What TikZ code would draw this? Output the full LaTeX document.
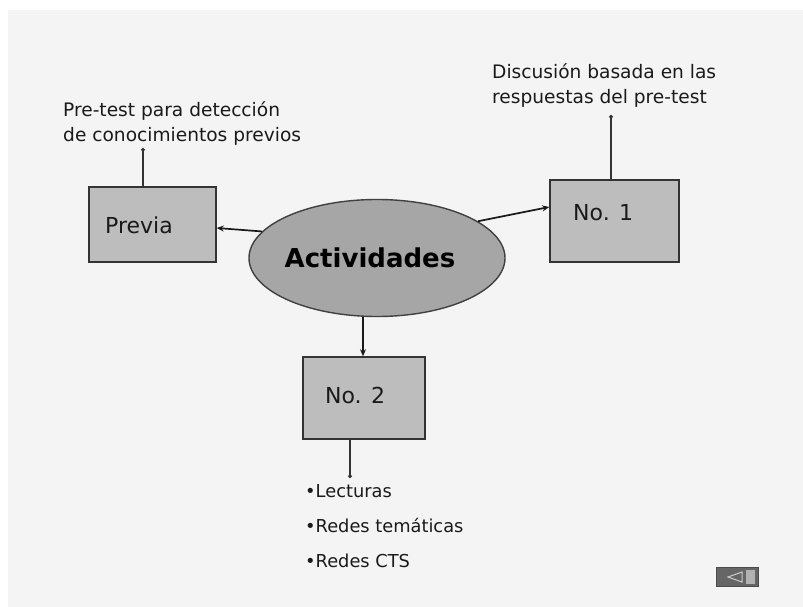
\documentclass[tikz,border=0pt]{standalone}
\usepackage{fontspec}
\setmainfont{DejaVu Sans}
\usetikzlibrary{shapes.geometric,arrows.meta}
\definecolor{slidebg}{HTML}{F4F4F4}
\definecolor{boxfill}{HTML}{BDBDBD}
\definecolor{ellfill}{HTML}{A6A6A6}
\definecolor{txt}{HTML}{1A1A1A}
\tikzset{
  x=1pt,y=-1pt,
  actbox/.style={draw=black!80,line width=1.5pt,fill=boxfill,minimum width=127pt,minimum height=75pt,inner sep=0pt},
  boxlabel/.style={font=\fontsize{22}{26}\selectfont,text=txt,anchor=base west,inner sep=0pt},
  note/.style={font=\fontsize{18.6}{25}\selectfont,text=txt,anchor=base west,inner sep=0pt},
  bullet/.style={font=\fontsize{17.8}{25}\selectfont,text=txt,anchor=base west,inner sep=0pt},
  conn/.style={draw=black!90,line width=1.7pt,-{Stealth[length=7pt,width=6pt]}},
  thin/.style={draw=black!80,line width=1.3pt,-{Circle[length=3.5pt]}}
}
\begin{document}
\begin{tikzpicture}
\useasboundingbox (0,0) rectangle (803,607);
\fill[white] (0,0) rectangle (803,607);
\fill[slidebg] (8,10) rectangle (803,607);
% central ellipse
\node[ellipse,draw=black!75,line width=1.4pt,fill=ellfill,minimum width=256pt,minimum height=117pt,inner sep=0pt] (act) at (377,258) {};
\node[font=\fontsize{26}{30}\selectfont\bfseries,text=black,anchor=base,inner sep=0pt] (actlbl) at (370,267) {Actividades};
% boxes
\node[actbox] (previa) at (152.5,224.5) {};
\node[boxlabel] (previalbl) at (105,233) {Previa};
\node[actbox,minimum width=129pt,minimum height=82pt] (no1) at (614.5,221) {};
\node[boxlabel] (no1lbl) at (573,220) {No. 1};
\node[actbox,minimum width=122pt,minimum height=82pt] (no2) at (364,398) {};
\node[boxlabel] (no2lbl) at (325,403) {No. 2};
% notes
\node[note] (n0a) at (63,117) {Pre-test para detección};
\node[note] (n0b) at (63,142) {de conocimientos previos};
\node[note] (n1a) at (492,79) {Discusión basada en las};
\node[note] (n1b) at (492,104) {respuestas del pre-test};
\node[bullet] (b1) at (305,497) {•Lecturas};
\node[bullet] (b2) at (305,532) {•Redes temáticas};
\node[bullet] (b3) at (305,567) {•Redes CTS};
% connectors
\coordinate (p0) at (143,148);
\coordinate (p1) at (611,115);
\coordinate (p2) at (350,478);
\draw[conn] (act.167) -- (previa.east |- 0,228);
\draw[conn] (act.20) -- (no1.west |- 0,207);
\draw[conn] (act.south -| 363,0) -- (no2.north -| 363,0);
\draw[thin] (previa.north -| p0) -- (p0);
\draw[thin] (no1.north -| p1) -- (p1);
\draw[thin] (no2.south -| p2) -- (p2);
% back button
\node[draw=black!70,line width=1pt,fill=black!60,minimum width=42pt,minimum height=19pt,inner sep=0pt] (btn) at (737,577) {};
\fill[black!30] (746,570) rectangle (755,584);
\draw[white!80!black,line width=1pt] (742,572) -- (728,577) -- (742,582) -- cycle;
\end{tikzpicture}
\end{document}
